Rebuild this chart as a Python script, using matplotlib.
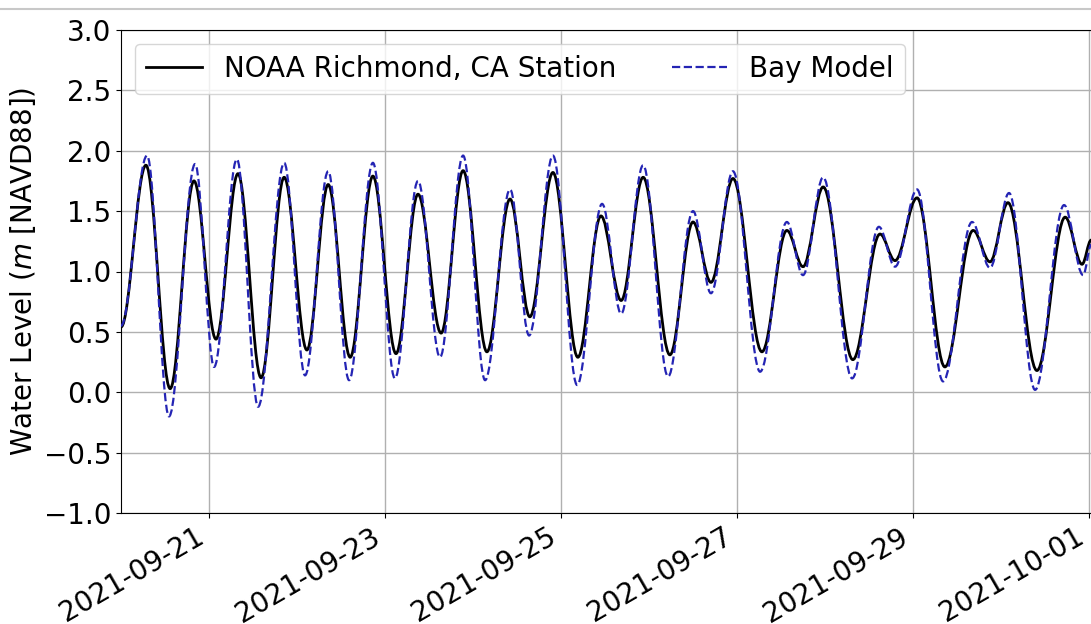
import numpy as np
import matplotlib
matplotlib.use("Agg")
import matplotlib.pyplot as plt
import matplotlib.dates as mdates
from matplotlib.path import Path
from matplotlib.patches import PathPatch
from matplotlib.lines import Line2D
import datetime as dt

# ---------------- data ----------------
base_time = dt.datetime(2021, 9, 20, 0, 0)

# NOAA station: successive turning points (hours after base_time, metres NAVD88)
noaa_hours = [0.0, 6.8, 13.4, 19.9, 25.9, 31.9, 38.2, 44.5, 50.7, 56.5, 62.5,
              68.7, 75.0, 81.0, 87.3, 93.3, 99.8, 106.1, 111.5, 117.8, 124.6,
              130.9, 136.4, 142.4, 149.7, 156.0, 160.9, 166.9, 174.8, 181.6,
              186.0, 191.5, 199.6, 207.0, 211.1, 217.1, 224.7, 232.4, 237.0,
              241.9, 249.8, 257.5, 262.1, 264.6]
noaa_level = [0.54, 1.88, 0.03, 1.75, 0.44, 1.81, 0.12, 1.78, 0.35, 1.72, 0.29,
              1.79, 0.32, 1.64, 0.49, 1.835, 0.335, 1.60, 0.625, 1.82, 0.29,
              1.46, 0.76, 1.78, 0.31, 1.41, 0.91, 1.77, 0.335, 1.34,
              1.04, 1.70, 0.27, 1.31, 1.09, 1.61, 0.21, 1.34, 1.08,
              1.57, 0.18, 1.45, 1.06, 1.26]

# Bay Model: successive turning points
model_hours = [0.0, 7.1, 13.1, 20.2, 25.4, 31.6, 37.4, 44.5, 50.2, 56.5, 62.2,
               68.7, 74.7, 81.0, 87.0, 93.3, 99.3, 106.1, 111.3, 117.8, 124.4,
               131.2, 136.4, 142.4, 149.2, 156.0, 160.9, 166.9, 174.3, 181.6,
               186.0, 191.5, 199.4, 206.7, 211.1, 217.1, 224.2, 232.1, 237.0,
               242.2, 249.3, 257.2, 262.4, 264.6]
model_level = [0.55, 1.96, -0.20, 1.89, 0.21, 1.93, -0.12, 1.90, 0.14, 1.83, 0.10,
               1.90, 0.115, 1.75, 0.29, 1.96, 0.10, 1.68, 0.47, 1.96, 0.06,
               1.56, 0.65, 1.88, 0.13, 1.50, 0.82, 1.83, 0.17, 1.41,
               0.97, 1.78, 0.115, 1.37, 1.04, 1.68, 0.09, 1.41, 1.03,
               1.65, 0.02, 1.55, 0.97, 1.22]

tick_dates = ["2021-09-21", "2021-09-23", "2021-09-25",
              "2021-09-27", "2021-09-29", "2021-10-01"]
series_labels = ["NOAA Richmond, CA Station", "Bay Model"]

# ---------------- figure ----------------
W, H = 1091, 624
fig = plt.figure(figsize=(W / 100, H / 100), dpi=100)
ax = fig.add_axes([121 / W, 1 - 513 / H, (1091 - 121) / W, (513 - 30) / H])

t0 = mdates.date2num(base_time)


def tide_path(hours, levels, k=0.36):
    """Smooth path through turning points (horizontal tangent at each)."""
    x = t0 + np.asarray(hours, float) / 24.0
    v = np.asarray(levels, float)
    verts = [(x[0], v[0])]
    codes = [Path.MOVETO]
    for i in range(len(x) - 1):
        d = x[i + 1] - x[i]
        verts += [(x[i] + k * d, v[i]), (x[i + 1] - k * d, v[i + 1]),
                  (x[i + 1], v[i + 1])]
        codes += [Path.CURVE4] * 3
    return Path(verts, codes)


obs_color = "black"
mod_color = "#2424b4"

ax.add_patch(PathPatch(tide_path(noaa_hours, noaa_level), fill=False,
                       edgecolor=obs_color, lw=2.0, zorder=3))
ax.add_patch(PathPatch(tide_path(model_hours, model_level), fill=False,
                       edgecolor=mod_color, lw=1.6, linestyle="--", zorder=4))

xmax = t0 + (1091 - 121) / 88.0
ax.set_xlim(t0, xmax)
ax.set_ylim(-1.0, 3.0)
ax.set_yticks(np.arange(-1.0, 3.01, 0.5))
ax.set_xticks([mdates.date2num(dt.datetime.strptime(s, "%Y-%m-%d")) for s in tick_dates])
ax.set_xticklabels(tick_dates, rotation=30, ha="right", rotation_mode="default")
ax.tick_params(axis="both", labelsize=20)
ax.grid(True, color="#b0b0b0", lw=1.0)
ax.set_axisbelow(True)
ax.spines["right"].set_visible(False)
ax.set_ylabel("Water Level ($m$ [NAVD88])", fontsize=20)

handles = [Line2D([], [], color=obs_color, lw=2.0),
           Line2D([], [], color=mod_color, lw=1.6, linestyle="--")]
ax.legend(handles, series_labels, loc="upper left", ncol=2, fontsize=20)

# thin border line at the very top of the screenshot
fig.add_artist(Line2D([0, 1], [1 - 9 / H, 1 - 9 / H], transform=fig.transFigure,
                      color="#c8c8c8", lw=1.5))

fig.savefig("out.png", dpi=100)
